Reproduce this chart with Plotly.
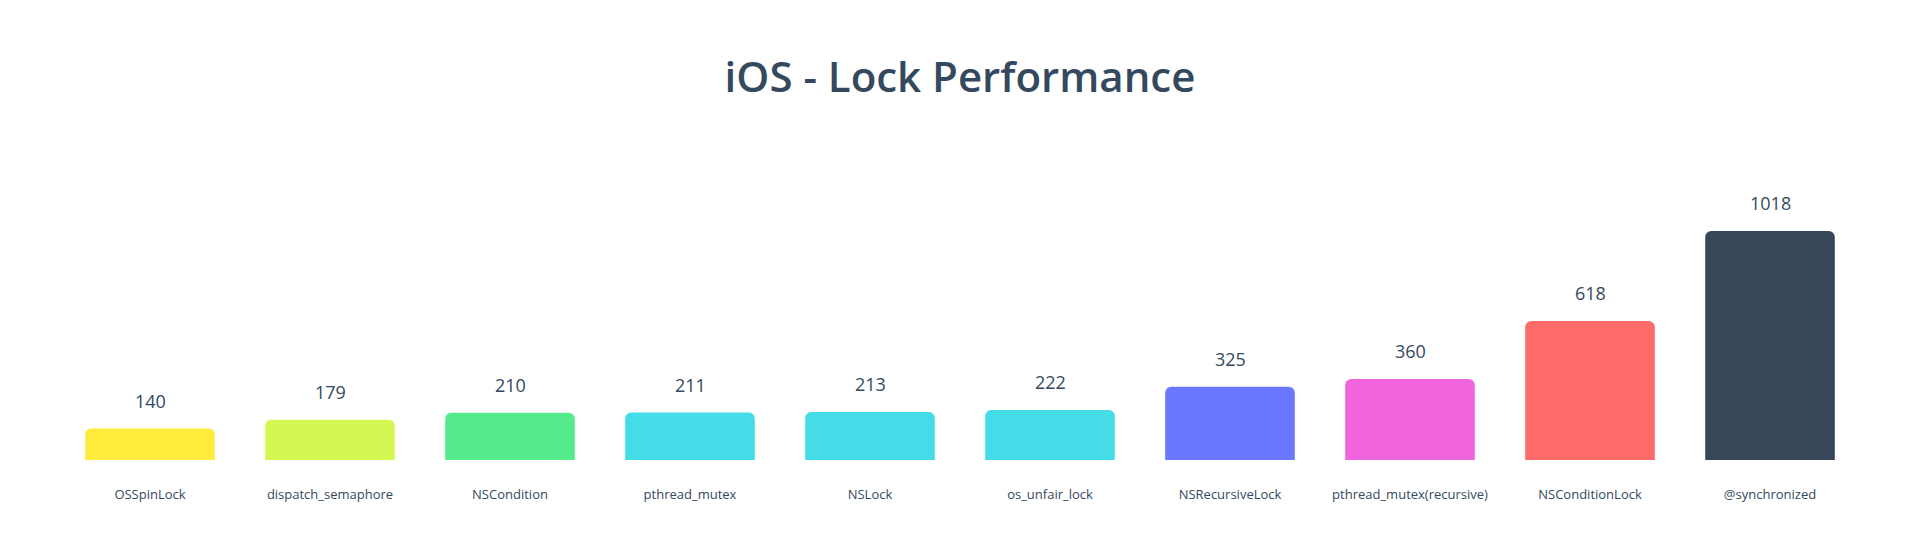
import plotly.graph_objects as go

categories = ["OSSpinLock", "dispatch_semaphore", "NSCondition", "pthread_mutex", "NSLock",
              "os_unfair_lock", "NSRecursiveLock", "pthread_mutex(recursive)", "NSConditionLock",
              "@synchronized"]
values = [140, 179, 210, 211, 213, 222, 325, 360, 618, 1018]
colors = ["#FFEB3B", "#D4F752", "#55EA8A", "#44DDE7", "#44DDE7", "#44DDE7", "#6A78FF",
          "#F064DE", "#FF6B6B", "#374759"]

TEXT = "#34495E"
FONT = "Open Sans"

fig = go.Figure()
fig.add_trace(go.Bar(x=categories, y=values, marker=dict(color=colors, line=dict(width=0)),
                     width=0.72, hoverinfo="x+y"))

for c, v in zip(categories, values):
    fig.add_annotation(x=c, y=v, text=str(v), showarrow=False, yanchor="bottom", yshift=14,
                       font=dict(family=FONT, size=18, color=TEXT))

fig.update_layout(
    width=1920, height=540,
    paper_bgcolor="white", plot_bgcolor="white",
    margin=dict(l=60, r=60, t=140, b=80),
    barcornerradius=6,
    showlegend=False,
    title=dict(text="iOS - Lock Performance", x=0.5, xanchor="center", y=1 - 77 / 540, yanchor="middle",
               font=dict(family=FONT, size=42, color=TEXT, weight=600)),
    xaxis=dict(showgrid=False, showline=False, zeroline=False, ticks="outside", ticklen=22,
               tickcolor="rgba(0,0,0,0)", tickfont=dict(family=FONT, size=13, color=TEXT)),
    yaxis=dict(range=[0, 1422], visible=False, showgrid=False, zeroline=False),
)

fig.write_html("out.html", config={"displayModeBar": False},
               post_script="document.body.style.margin='0';")
